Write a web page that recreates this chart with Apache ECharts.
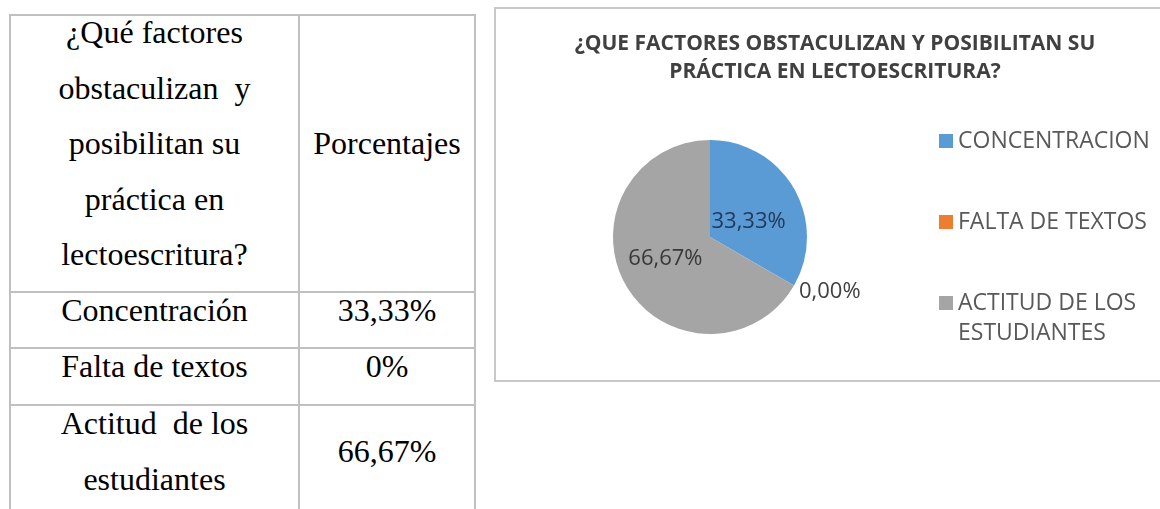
<!DOCTYPE html>
<html>
<head>
<meta charset="utf-8">
<script src="https://cdn.jsdelivr.net/npm/echarts@6/dist/echarts.min.js"></script>
<style>
html, body { margin: 0; padding: 0; background: #fff; width: 1160px; height: 509px; overflow: hidden; }
.cell { position: absolute; box-sizing: border-box; border: 2px solid #c0c0c0; }
.txt { position: absolute; font-family: "Liberation Serif", serif; font-size: 32px; line-height: 55.5px; color: #000; text-align: center; white-space: pre; }
#box { position: absolute; left: 494px; top: 7px; width: 682px; height: 375px; box-sizing: border-box; border: 2px solid #c8c8c8; }
#chart { width: 678px; height: 371px; }
</style>
</head>
<body>
<div id="table"></div>
<div id="box"><div id="chart"></div></div>
<script>
// tabla
var questionLines = ['¿Qué factores', 'obstaculizan  y', 'posibilitan su', 'práctica en', 'lectoescritura?'];
var columnTitle = 'Porcentajes';
var tableCategories = ['Concentración', 'Falta de textos', 'Actitud  de los\nestudiantes'];
var tablePercents = ['33,33%', '0%', '66,67%'];

// grafico
var chartTitle = '¿QUE FACTORES OBSTACULIZAN Y POSIBILITAN SU\nPRÁCTICA EN LECTOESCRITURA?';
var pieNames = ['CONCENTRACION', 'FALTA DE TEXTOS', 'ACTITUD DE LOS ESTUDIANTES'];
var pieValues = [33.33, 0, 66.67];
var pieColors = ['#5b9bd5', '#ed7d31', '#a5a5a5'];

var colEdges = [10, 299, 475];
var rowEdges = [15, 292, 348, 405, 540];
var table = document.getElementById('table');

function addCell(x1, y1, x2, y2) {
  var d = document.createElement('div');
  d.className = 'cell';
  d.style.left = (x1 - 1) + 'px';
  d.style.top = (y1 - 1) + 'px';
  d.style.width = (x2 - x1 + 2) + 'px';
  d.style.height = (y2 - y1 + 2) + 'px';
  table.appendChild(d);
}
function addText(str, x1, x2, top) {
  var d = document.createElement('div');
  d.className = 'txt';
  d.style.left = x1 + 'px';
  d.style.width = (x2 - x1) + 'px';
  d.style.top = top + 'px';
  d.textContent = str;
  table.appendChild(d);
}

for (var r = 0; r < rowEdges.length - 1; r++) {
  addCell(colEdges[0], rowEdges[r], colEdges[1], rowEdges[r + 1]);
  addCell(colEdges[1], rowEdges[r], colEdges[2], rowEdges[r + 1]);
}
addText(questionLines.join('\n'), colEdges[0], colEdges[1], 5.4);
addText(columnTitle, colEdges[1], colEdges[2], 116.4);
var catTops = [283.4, 339.4, 396.4];
var pctTops = [283.4, 339.4, 424.4];
for (var i = 0; i < tableCategories.length; i++) {
  addText(tableCategories[i], colEdges[0], colEdges[1], catTops[i]);
  addText(tablePercents[i], colEdges[1], colEdges[2], pctTops[i]);
}

var myChart = echarts.init(document.getElementById('chart'));

function legendItem(idx, top) {
  return {
    data: [pieNames[idx]],
    left: 443,
    top: top,
    padding: 0,
    orient: 'vertical',
    icon: 'rect',
    itemWidth: 14,
    itemHeight: 14,
    selectedMode: false,
    formatter: function (name) {
      return name === pieNames[2] ? '\nACTITUD DE LOS\nESTUDIANTES' : name;
    },
    textStyle: {
      fontFamily: 'Open Sans',
      fontSize: 23,
      lineHeight: 30,
      color: '#595959',
    },
  };
}

// ajuste de posicion de cada etiqueta (padding del texto)
var labelPads = [[20, 12, 0, 0], [13, 0, 0, 0], [0, 0, 8, 0]];

var pieData = pieValues.map(function (v, i) {
  var item = {
    name: pieNames[i],
    value: v,
    itemStyle: { color: pieColors[i] },
  };
  if (v === 0) {
    item.label = { position: 'outside', color: '#404040', padding: labelPads[i] };
  } else {
    item.label = { position: 'inside', color: i === 0 ? '#22395a' : '#383838', padding: labelPads[i] };
  }
  return item;
});

option = {
  animation: false,
  title: {
    text: chartTitle,
    left: 'center',
    top: 21,
    padding: 0,
    textStyle: {
      fontFamily: 'Open Sans',
      fontWeight: 'bold',
      fontSize: 21,
      lineHeight: 28,
      color: '#404040',
    },
  },
  legend: [legendItem(0, 117), legendItem(1, 198), legendItem(2, 249)],
  series: [
    {
      type: 'pie',
      center: [214, 228],
      radius: 97,
      startAngle: 90,
      clockwise: true,
      silent: true,
      avoidLabelOverlap: false,
      label: {
        show: true,
        fontFamily: 'Open Sans',
        fontSize: 22,
        formatter: function (p) {
          return '{v|' + p.value.toFixed(2).replace('.', ',') + '%}';
        },
        rich: {
          v: { fontFamily: 'Open Sans', fontSize: 22 },
        },
      },
      labelLine: { show: false, length: 0, length2: 0 },
      data: pieData,
    },
  ],
};

myChart.setOption(option);
</script>
</body>
</html>
